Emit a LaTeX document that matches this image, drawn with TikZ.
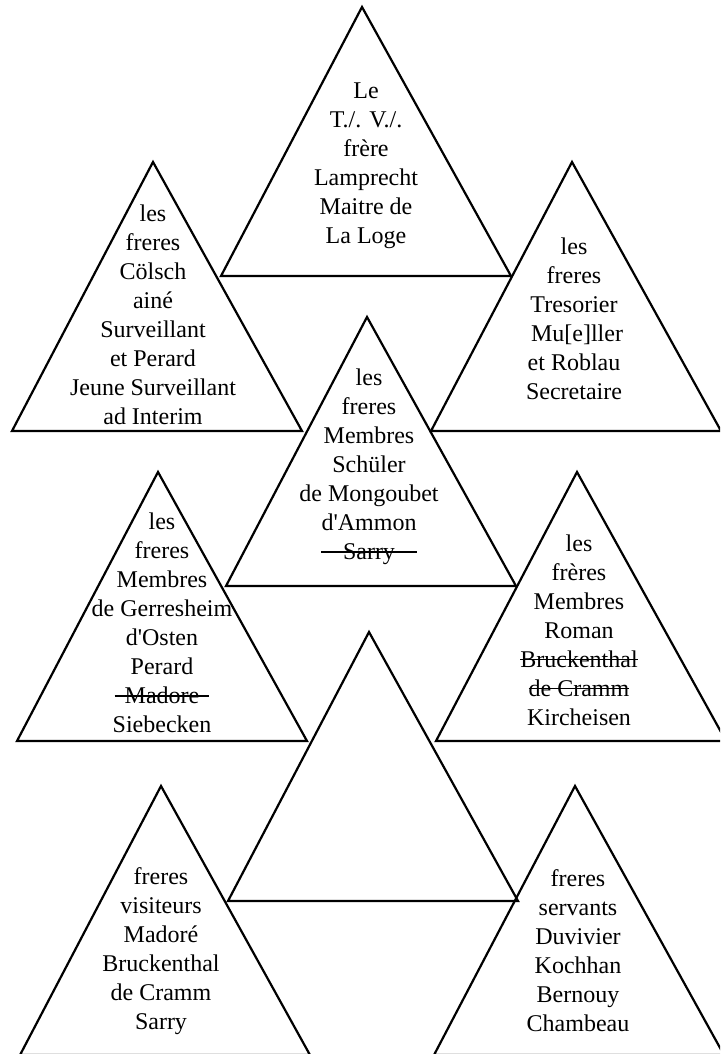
\documentclass[tikz,border=0pt]{standalone}
\usepackage{fontspec}
\setmainfont{Liberation Serif}

% struck-through name, optional overhang of the rule on both sides
\newcommand\struck[2][0pt]{%
  \setbox0\hbox{#2}%
  \rlap{\kern-#1\rule[0.3em]{\dimexpr\wd0+#1+#1\relax}{0.7pt}}\box0}

\tikzset{
  tri/.style={draw, line width=1.1pt},
  names/.style={align=center, inner sep=0pt,
                font=\fontsize{12}{14.5}\selectfont},
}

\begin{document}
\begin{tikzpicture}[x=0.5pt, y=-0.5pt]
  \clip (0,0) rectangle (720,1054);

  % the nine triangles
  \draw[tri] (362,7)   -- (511,276)  -- (221,276)  -- cycle;
  \draw[tri] (153,162) -- (302,431)  -- (12,431)   -- cycle;
  \draw[tri] (572,162) -- (721,431)  -- (431,431)  -- cycle;
  \draw[tri] (367,317) -- (516,586)  -- (226,586)  -- cycle;
  \draw[tri] (158,472) -- (307,741)  -- (17,741)   -- cycle;
  \draw[tri] (577,472) -- (726,741)  -- (436,741)  -- cycle;
  \draw[tri] (369,632) -- (518,901)  -- (228,901)  -- cycle;
  \draw[tri] (161,786) -- (310,1055) -- (20,1055)  -- cycle;
  \draw[tri] (575,786) -- (724,1055) -- (434,1055) -- cycle;

  \node[names] (maitre) at (366,166)
    {Le\\T./. V./.\\frère\\Lamprecht\\Maitre de\\La Loge};
  \node[names] (surv) at (153,315)
    {les\\freres\\Cölsch\\ainé\\Surveillant\\et Perard\\Jeune Surveillant\\ad Interim};
  \node[names] (tres) at (574,319)
    {les\\freres\\Tresorier\\\ Mu[e]ller\\et Roblau\\Secretaire};
  \node[names] (membres) at (369,467)
    {les\\freres\\Membres\\Schüler\\de Mongoubet\\d\textquotesingle Ammon\\\struck[11pt]{Sarry}};
  \node[names] (gerres) at (162,623)
    {les\\freres\\Membres\\de Gerresheim\\d\textquotesingle Osten\\Perard\\\struck[5pt]{Madore}\\Siebecken};
  \node[names] (roman) at (579,630)
    {les\\frères\\Membres\\Roman\\\struck{Bruckenthal}\\\struck{de Cramm}\\Kircheisen};
  \node[names] (visit) at (161,951)
    {freres\\visiteurs\\Madoré\\Bruckenthal\\de Cramm\\Sarry};
  \node[names] (serv) at (578,951)
    {freres\\servants\\Duvivier\\Kochhan\\Bernouy\\Chambeau};
\end{tikzpicture}
\end{document}
